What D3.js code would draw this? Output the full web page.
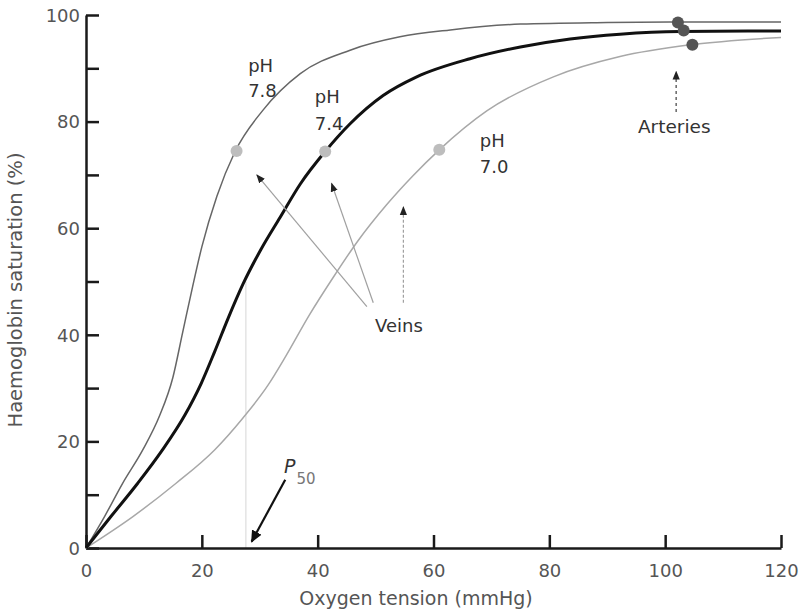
<!DOCTYPE html>
<html>
<head>
<meta charset="utf-8">
<script src="https://cdn.jsdelivr.net/npm/d3@7"></script>
<style>
  body { margin: 0; background: #fff; }
  text { font-family: "DejaVu Sans", sans-serif; }
</style>
</head>
<body>
<div class="chart"></div>
<script>
const w = 806;
const h = 613;

// oxygen tension (mmHg), saturation (%)
const ph78 = [[0,0],[3.2,5.9],[6.3,12.1],[9.8,18.4],[12.7,24.8],[15,32],[16.7,40.5],[18.4,49],
  [20,56.5],[22.6,66],[25.7,74.3],[30.6,82.2],[37,89],[45.6,93.4],[54.2,95.9],[62.9,97.2],
  [75,98.3],[90,98.6],[100.9,98.7],[120,98.7]];
const ph74 = [[0,0],[4.3,5.9],[8.9,12.1],[13.2,18.4],[17,24.8],[19.9,30.9],[22.2,36.8],[24.5,43],
  [27.1,49.5],[30.2,56],[33.5,62],[37,68.3],[41.3,74.4],[45.6,79.6],[51.3,84.9],[57.1,88.4],
  [66.3,91.8],[75,94],[83.6,95.5],[92.2,96.4],[102.6,96.9],[120,97]];
const ph70 = [[0,0],[8.1,5.9],[15.5,12.1],[22.2,18.4],[27.1,24.4],[31.4,30.5],[34.5,36],[38.5,43.6],
  [42.7,50.8],[47,57.7],[51.9,64.4],[56.5,69.9],[61,74.7],[69.2,82],[80.7,88.4],[92.2,92.2],[104.3,94.4],[120,95.8]];

const veinPoints = [[26,74.5],[41.3,74.4],[61,74.7]];
const arteryPoints = [[102.2,98.6],[103.2,97.1],[104.7,94.4]];

const xTicks = [0,20,40,60,80,100,120];
const yTicks = [0,10,20,30,40,50,60,70,80,90,100];
const yLabels = [0,20,40,60,80,100];

// label text with anchor in data units
const phLabels = [
  {t:"pH", x:28, y:89.3}, {t:"7.8", x:28, y:84.6},
  {t:"pH", x:39.5, y:83.5}, {t:"7.4", x:39.5, y:78.4},
  {t:"pH", x:68, y:75.2}, {t:"7.0", x:68, y:70.3}
];
// arrows [tail, head] in data units
const veinArrows = [[[48.5,45.3],[29.5,70]], [[49.6,46],[42.4,68.4]], [[54.8,46],[54.8,64]]];
const arteryArrow = [[101.9,81.8],[101.9,89.4]];
const p50Arrow = [[34.4,12.8],[28.6,1.2]];
const p50 = 27.6;

let svg = d3.select(".chart").append("svg")
  .attr("width", w).attr("height", h);

svg.append("rect").attr("width", w).attr("height", h).attr("fill", "#fff");

let x = d3.scaleLinear().domain([0,120]).range([86,781]);
let y = d3.scaleLinear().domain([0,100]).range([548,15]);

let defs = svg.append("defs");
defs.append("marker").attr("id","head")
  .attr("viewBox","0 -5 10 10").attr("refX",9).attr("refY",0)
  .attr("markerWidth",9).attr("markerHeight",9)
  .attr("markerUnits","userSpaceOnUse").attr("orient","auto")
  .append("path").attr("d","M0,-4L10,0L0,4Z").attr("fill","#222");
defs.append("marker").attr("id","headBig")
  .attr("viewBox","0 -5 10 10").attr("refX",9).attr("refY",0)
  .attr("markerWidth",12).attr("markerHeight",12)
  .attr("markerUnits","userSpaceOnUse").attr("orient","auto")
  .append("path").attr("d","M0,-4.5L10,0L0,4.5Z").attr("fill","#111");

// faint P50 guide
svg.append("line")
  .attr("x1", x(p50)).attr("x2", x(p50))
  .attr("y1", y(50)).attr("y2", y(0))
  .attr("stroke", "#e4e4e4").attr("stroke-width", 1.5);

// axes
let xAxis = svg.append("g")
  .attr("transform", "translate(0," + y(0) + ")")
  .call(d3.axisBottom(x).tickValues(xTicks).tickSize(-13).tickSizeOuter(0).tickPadding(16));
let yAxis = svg.append("g")
  .attr("transform", "translate(" + x(0) + ",0)")
  .call(d3.axisLeft(y).tickValues(yTicks).tickSize(-13).tickSizeOuter(0).tickPadding(6)
    .tickFormat(d => yLabels.includes(d) ? d : ""));

[xAxis, yAxis].forEach(g => {
  g.select(".domain").attr("stroke","#1a1a1a").attr("stroke-width",2.5);
  g.selectAll(".tick line").attr("stroke","#1a1a1a").attr("stroke-width",2.5);
  g.selectAll(".tick text").attr("fill","#555").style("font-size","18px");
});
yAxis.selectAll(".tick text").attr("dy","0.35em");

// axis titles
svg.append("text")
  .attr("x", 416).attr("y", 605)
  .attr("text-anchor","middle").attr("fill","#555").style("font-size","19px")
  .text("Oxygen tension (mmHg)");
svg.append("text")
  .attr("transform","translate(22,290) rotate(-90)")
  .attr("text-anchor","middle").attr("fill","#555").style("font-size","19.5px")
  .text("Haemoglobin saturation (%)");

// curves
let line = d3.line().x(d => x(d[0])).y(d => y(d[1])).curve(d3.curveMonotoneX);
svg.append("path").datum(ph70).attr("d", line)
  .attr("fill","none").attr("stroke","#a8a8a8").attr("stroke-width",1.5);
svg.append("path").datum(ph78).attr("d", line)
  .attr("fill","none").attr("stroke","#666").attr("stroke-width",1.5);
svg.append("path").datum(ph74).attr("d", line)
  .attr("fill","none").attr("stroke","#111").attr("stroke-width",3);

// markers
svg.selectAll(".vein").data(veinPoints).enter().append("circle")
  .attr("cx", d => x(d[0])).attr("cy", d => y(d[1])).attr("r", 6)
  .attr("fill","#bdbdbd");
svg.selectAll(".artery").data(arteryPoints).enter().append("circle")
  .attr("cx", d => x(d[0])).attr("cy", d => y(d[1])).attr("r", 6)
  .attr("fill","#555");

// vein arrows
svg.selectAll(".varrow").data(veinArrows).enter().append("line")
  .attr("x1", d => x(d[0][0])).attr("y1", d => y(d[0][1]))
  .attr("x2", d => x(d[1][0])).attr("y2", d => y(d[1][1]))
  .attr("stroke","#a0a0a0").attr("stroke-width",1.2)
  .attr("stroke-dasharray", (d, i) => i == 2 ? "3,2" : null)
  .attr("marker-end","url(#head)");

svg.append("line")
  .attr("x1", x(arteryArrow[0][0])).attr("y1", y(arteryArrow[0][1]))
  .attr("x2", x(arteryArrow[1][0])).attr("y2", y(arteryArrow[1][1]))
  .attr("stroke","#666").attr("stroke-width",1.5).attr("stroke-dasharray","3,3")
  .attr("marker-end","url(#head)");

svg.append("line")
  .attr("x1", x(p50Arrow[0][0])).attr("y1", y(p50Arrow[0][1]))
  .attr("x2", x(p50Arrow[1][0])).attr("y2", y(p50Arrow[1][1]))
  .attr("stroke","#111").attr("stroke-width",2.2)
  .attr("marker-end","url(#headBig)");

// labels
svg.selectAll(".phl").data(phLabels).enter().append("text")
  .attr("x", d => x(d.x)).attr("y", d => y(d.y))
  .attr("fill","#333").style("font-size","18px")
  .text(d => d.t);

svg.append("text").attr("x", x(49.9)).attr("y", y(40.5))
  .attr("fill","#333").style("font-size","18px").text("Veins");
svg.append("text").attr("x", x(95.3)).attr("y", y(77.8))
  .attr("fill","#333").style("font-size","18.5px").text("Arteries");

let p = svg.append("text").attr("x", x(34.2)).attr("y", y(14))
  .attr("fill","#333").style("font-size","19px");
p.append("tspan").style("font-style","italic").text("P");
p.append("tspan").attr("dy", 11).attr("dx", 1).attr("fill","#777").style("font-size","15px").text("50");
</script>
</body>
</html>
